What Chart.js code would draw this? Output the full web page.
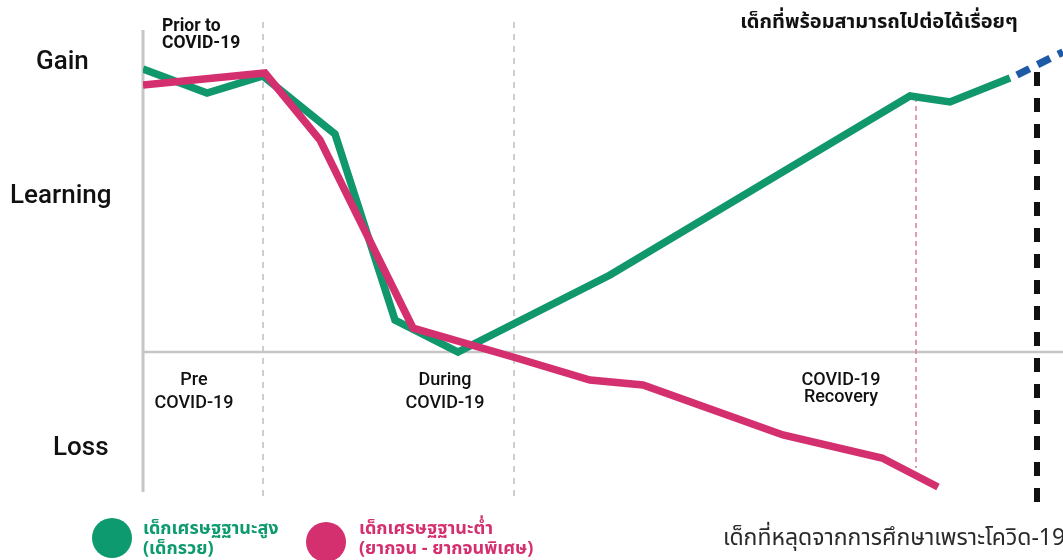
<!DOCTYPE html>
<html>
<head>
<meta charset="utf-8">
<script src="https://cdn.jsdelivr.net/npm/chart.js@4"></script>
<style>
  html, body { margin: 0; padding: 0; background: #fff; }
  #wrap { width: 1063px; height: 560px; position: relative; }
</style>
</head>
<body>
<div id="wrap"><canvas id="learningChart"></canvas></div>
<script>
window.onload = init;

// timeline (x) e nível de aprendizagem (y)
const richX = [0, 6.4, 12, 19.2, 25.2, 31.5, 46.7, 76.7, 80.7, 86.7];
const richY = [28.3, 25.9, 27.6, 21.8, 3.2, 0, 7.7, 25.6, 25.0, 27.4];

const poorX = [0, 12.2, 17.7, 27, 37, 44.7, 50, 64, 73.9, 79.5];
const poorY = [26.7, 27.9, 21.2, 2.4, -0.5, -2.8, -3.3, -8.3, -10.6, -13.5];

// projeção (azul tracejado)
const projX = [87.4, 92];
const projY = [27.7, 30];

// marcos verticais
const phaseBounds = [12, 37.1];
const recoveryMark = { x: 77.3, from: 25.5, to: -11.6 };
const dropoutMark = { x: 89.4, from: 28, to: -16.1 };

const yLabels = ["Gain", "Learning", "Loss"];
const phaseLabels = [["Pre", "COVID-19"], ["During", "COVID-19"], ["COVID-19", "Recovery"]];
const legendLabels = [
  ["เด็กเศรษฐฐานะสูง", "(เด็กรวย)"],
  ["เด็กเศรษฐฐานะต่ำ", "(ยากจน - ยากจนพิเศษ)"],
];

const GREEN = "#11976c";
const PINK = "#d42f6f";
const GRAY = "#c6c6c6";
const THAI = "'Noto Sans Thai', 'Noto Sans Thai Looped', 'Noto Sans', sans-serif";
const LATIN = "Roboto, 'Noto Sans', sans-serif";

function toPoints(xs, ys) {
  return xs.map((x, i) => ({ x: x, y: ys[i] }));
}

function refLine(points, color, width, dash, order) {
  return {
    data: points,
    borderColor: color,
    borderWidth: width,
    borderDash: dash,
    pointRadius: 0,
    order: order,
    clip: false,
  };
}

const textPlugin = {
  id: "textPlugin",
  afterDraw(chart) {
    const ctx = chart.ctx;
    ctx.save();
    ctx.fillStyle = "#111";

    // eixo: Gain / Learning / Loss
    ctx.font = "500 26px " + LATIN;
    ctx.textBaseline = "middle";
    ctx.textAlign = "left";
    ctx.fillText(yLabels[0], 36, 62);
    ctx.fillText(yLabels[1], 10, 196);
    ctx.fillText(yLabels[2], 53, 448);

    // Prior to COVID-19
    ctx.font = "bold 17.5px " + LATIN;
    ctx.fillText("Prior to", 162, 27);
    ctx.fillText("COVID-19", 162, 44);

    // fases
    ctx.font = "500 18px " + LATIN;
    ctx.textAlign = "center";
    ctx.fillText(phaseLabels[0][0], 194, 380);
    ctx.fillText(phaseLabels[0][1], 194, 403);
    ctx.fillText(phaseLabels[1][0], 445, 380);
    ctx.fillText(phaseLabels[1][1], 445, 403);
    ctx.fillText(phaseLabels[2][0], 841, 380);
    ctx.fillText(phaseLabels[2][1], 841, 397);

    // títulos em tailandês
    ctx.font = "bold 20px " + THAI;
    ctx.fillText("เด็กที่พร้อมสามารถไปต่อได้เรื่อยๆ", 879, 24);
    ctx.font = "23px " + THAI;
    ctx.fillStyle = "#2a2a2a";
    ctx.fillText("เด็กที่หลุดจากการศึกษาเพราะโควิด-19", 894, 540);

    // legenda
    const items = [
      { cx: 112, cy: 538, tx: 143, color: "#0d9a6e", label: legendLabels[0] },
      { cx: 326, cy: 542, tx: 359, color: PINK, label: legendLabels[1] },
    ];
    items.forEach((it) => {
      ctx.beginPath();
      ctx.arc(it.cx, it.cy, 20, 0, Math.PI * 2);
      ctx.fillStyle = it.color;
      ctx.fill();
      ctx.font = "bold 18px " + THAI;
      ctx.textAlign = "left";
      ctx.fillText(it.label[0], it.tx, 530);
      ctx.fillText(it.label[1], it.tx, 550);
    });
    ctx.restore();
  },
};

function init(e) {
  const datasets = [
    // linhas principais
    {
      data: toPoints(poorX, poorY),
      borderColor: PINK,
      borderWidth: 7.5,
      pointRadius: 0,
      tension: 0,
      order: 0,
    },
    {
      data: toPoints(richX, richY),
      borderColor: GREEN,
      borderWidth: 7.5,
      pointRadius: 0,
      tension: 0,
      order: 1,
    },
    refLine(toPoints(projX, projY), "#1d5aa6", 7.5, [14, 9], 2),
    refLine([{ x: dropoutMark.x, y: dropoutMark.from }, { x: dropoutMark.x, y: dropoutMark.to }], "#111", 6, [14, 12], 3),
    refLine([{ x: recoveryMark.x, y: recoveryMark.from }, { x: recoveryMark.x, y: recoveryMark.to }], "#d87b9d", 1.5, [5, 4], 4),
    // eixos
    refLine([{ x: 0, y: 0 }, { x: 92, y: 0 }], GRAY, 2.5, [], 5),
    refLine([{ x: 0, y: 32.2 }, { x: 0, y: -14 }], GRAY, 3, [], 6),
  ];
  phaseBounds.forEach((b) => {
    datasets.push(refLine([{ x: b, y: 33 }, { x: b, y: -14.5 }], "#c9c9c9", 1.8, [6, 6], 7));
  });

  const ctx = document.getElementById("learningChart").getContext("2d");
  new Chart(ctx, {
    type: "line",
    data: { datasets },
    plugins: [textPlugin],
    options: {
      responsive: true,
      maintainAspectRatio: false,
      animation: false,
      layout: { padding: { left: 143, right: 0, top: 22, bottom: 38 } },
      scales: {
        x: { type: "linear", min: 0, max: 92, display: false },
        y: { min: -17, max: 33, display: false },
      },
      plugins: {
        legend: { display: false },
        tooltip: { enabled: false },
      },
    },
  });
}
</script>
</body>
</html>
